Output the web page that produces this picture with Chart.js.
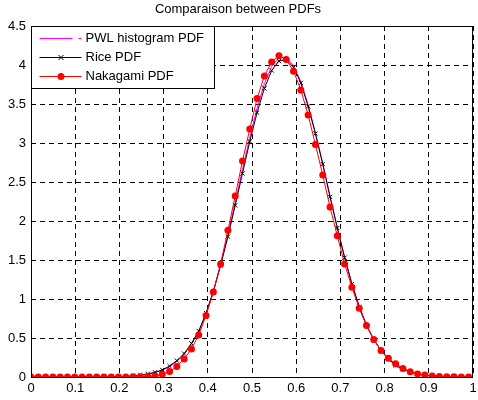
<!DOCTYPE html>
<html lang="en">
<head>
    <meta charset="UTF-8">
    <title>Comparaison between PDFs</title>
    <script src="https://cdn.jsdelivr.net/npm/chart.js"></script>
    <style>
        body {
            margin: 0;
            padding: 0;
            background: #ffffff;
        }
        #chart {
            display: block;
        }
    </style>
</head>
<body>
    <canvas id="chart" width="478" height="400"></canvas>

    <script>
        // x positions of the samples
        const xs = [0, 0.0165, 0.033, 0.0495, 0.066, 0.0825, 0.099, 0.1155, 0.132, 0.1485,
            0.165, 0.1815, 0.198, 0.2145, 0.231, 0.2475, 0.264, 0.2805, 0.297, 0.3135,
            0.33, 0.3465, 0.363, 0.3795, 0.396, 0.4125, 0.429, 0.4455, 0.462, 0.4785,
            0.495, 0.5115, 0.528, 0.5445, 0.561, 0.5775, 0.594, 0.6105, 0.627, 0.6435,
            0.66, 0.6765, 0.693, 0.7095, 0.726, 0.7425, 0.759, 0.7755, 0.792, 0.8085,
            0.825, 0.8415, 0.858, 0.8745, 0.891, 0.9075, 0.924, 0.9405, 0.957, 0.9735,
            0.99];

        const pwlPdf = [0, 0, 0, 0, 0, 0, 0, 0, 0, 0.0003,
            0.0008, 0.0015, 0.003, 0.006, 0.012, 0.021, 0.036, 0.056, 0.086, 0.13,
            0.2, 0.29, 0.42, 0.58, 0.8, 1.09, 1.44, 1.82, 2.24, 2.66,
            3.07, 3.45, 3.76, 3.98, 4.09, 4.1, 3.99, 3.79, 3.49, 3.13,
            2.74, 2.32, 1.92, 1.54, 1.2, 0.91, 0.67, 0.48, 0.34, 0.23,
            0.15, 0.1, 0.065, 0.04, 0.024, 0.014, 0.008, 0.004, 0.002, 0.001,
            0];

        const ricePdf = [0, 0, 0, 0, 0, 0, 0, 0, 0.0002, 0.0005,
            0.001, 0.002, 0.004, 0.008, 0.015, 0.025, 0.04, 0.06, 0.09, 0.14,
            0.21, 0.30, 0.43, 0.59, 0.82, 1.10, 1.43, 1.80, 2.20, 2.61,
            3.02, 3.39, 3.70, 3.93, 4.05, 4.07, 3.97, 3.77, 3.47, 3.12,
            2.73, 2.31, 1.91, 1.53, 1.19, 0.90, 0.66, 0.48, 0.34, 0.23,
            0.15, 0.10, 0.065, 0.04, 0.025, 0.015, 0.009, 0.005, 0.003, 0.002,
            0.001];

        const nakagamiPdf = [0, 0, 0, 0, 0, 0, 0, 0, 0, 0,
            0.0001, 0.0003, 0.0006, 0.0012, 0.0025, 0.0045, 0.007, 0.013, 0.035, 0.07,
            0.135, 0.23, 0.36, 0.54, 0.79, 1.09, 1.45, 1.88, 2.32, 2.77,
            3.18, 3.57, 3.86, 4.04, 4.12, 4.07, 3.92, 3.68, 3.36, 2.98,
            2.59, 2.18, 1.81, 1.45, 1.15, 0.88, 0.66, 0.48, 0.34, 0.24,
            0.17, 0.11, 0.068, 0.04, 0.026, 0.014, 0.008, 0.004, 0.002, 0.001,
            0.0005];

        const xTicks = [0, 0.1, 0.2, 0.3, 0.4, 0.5, 0.6, 0.7, 0.8, 0.9, 1];
        const xTickLabels = ['0', '0.1', '0.2', '0.3', '0.4', '0.5', '0.6', '0.7', '0.8', '0.9', '1'];
        const yTicks = [0, 0.5, 1, 1.5, 2, 2.5, 3, 3.5, 4, 4.5];
        const yTickLabels = ['0', '0.5', '1', '1.5', '2', '2.5', '3', '3.5', '4', '4.5'];

        const seriesNames = ['PWL histogram PDF', 'Rice PDF', 'Nakagami PDF'];

        const FONT = '"Liberation Sans", Arial, Helvetica, sans-serif';

        function toPoints(ys) {
            return xs.map((x, i) => ({ x: x, y: ys[i] }));
        }

        // box around the axes + matlab style legend
        const frameAndLegend = {
            id: 'frameAndLegend',
            afterDraw(chart) {
                const ctx = chart.ctx;
                const a = chart.chartArea;
                ctx.save();
                ctx.setLineDash([]);
                ctx.strokeStyle = '#000';
                ctx.lineWidth = 1;
                ctx.strokeRect(Math.round(a.left) + 0.5, Math.round(a.top) + 0.5,
                    Math.round(a.right - a.left) - 1, Math.round(a.bottom - a.top));

                // legend
                const lx = Math.round(a.left) + 0.5;
                const ly = Math.round(a.top) + 0.5;
                const lw = 183;
                const lh = 62;
                ctx.fillStyle = '#fff';
                ctx.fillRect(lx, ly, lw, lh);
                ctx.strokeRect(lx, ly, lw, lh);

                const rows = [ly + 12, ly + 31, ly + 50];
                ctx.font = '13px ' + FONT;
                ctx.textBaseline = 'middle';
                ctx.textAlign = 'left';

                // PWL
                ctx.strokeStyle = '#ff00ff';
                ctx.beginPath();
                ctx.moveTo(lx + 8, rows[0]);
                ctx.lineTo(lx + 41, rows[0]);
                ctx.moveTo(lx + 47, rows[0]);
                ctx.lineTo(lx + 50, rows[0]);
                ctx.stroke();

                // Rice
                ctx.strokeStyle = '#000';
                ctx.beginPath();
                ctx.moveTo(lx + 8, rows[1]);
                ctx.lineTo(lx + 50, rows[1]);
                ctx.moveTo(lx + 27, rows[1] - 2.5);
                ctx.lineTo(lx + 32, rows[1] + 2.5);
                ctx.moveTo(lx + 32, rows[1] - 2.5);
                ctx.lineTo(lx + 27, rows[1] + 2.5);
                ctx.stroke();

                // Nakagami
                ctx.strokeStyle = '#ff0000';
                ctx.fillStyle = '#ff0000';
                ctx.beginPath();
                ctx.moveTo(lx + 8, rows[2]);
                ctx.lineTo(lx + 50, rows[2]);
                ctx.stroke();
                ctx.beginPath();
                ctx.arc(lx + 29.5, rows[2], 3.5, 0, Math.PI * 2);
                ctx.fill();

                ctx.fillStyle = '#000';
                seriesNames.forEach((name, i) => {
                    ctx.fillText(name, lx + 54, rows[i]);
                });
                ctx.restore();
            }
        };

        const ctx = document.getElementById('chart').getContext('2d');
        new Chart(ctx, {
            type: 'line',
            data: {
                datasets: [
                    {
                        label: seriesNames[2],
                        data: toPoints(nakagamiPdf),
                        borderColor: '#ff0000',
                        backgroundColor: '#ff0000',
                        borderWidth: 1,
                        pointStyle: 'circle',
                        pointRadius: 3.5,
                        pointBorderWidth: 0,
                        order: 0
                    },
                    {
                        label: seriesNames[1],
                        data: toPoints(ricePdf),
                        borderColor: '#000000',
                        backgroundColor: '#000000',
                        borderWidth: 1,
                        pointStyle: 'crossRot',
                        pointRadius: 3,
                        pointBorderWidth: 1,
                        order: 1
                    },
                    {
                        label: seriesNames[0],
                        data: toPoints(pwlPdf),
                        borderColor: '#ff00ff',
                        backgroundColor: '#ff00ff',
                        borderWidth: 1,
                        pointRadius: 0,
                        order: 2
                    }
                ]
            },
            options: {
                responsive: false,
                animation: false,
                events: [],
                layout: {
                    padding: { left: 0, right: 2, top: 0, bottom: 0 }
                },
                elements: {
                    line: { tension: 0 }
                },
                plugins: {
                    legend: { display: false },
                    tooltip: { enabled: false },
                    title: {
                        display: true,
                        text: 'Comparaison between PDFs',
                        color: '#000',
                        font: { family: FONT, size: 13, weight: 'normal' },
                        padding: { top: 2, bottom: 8.4 }
                    }
                },
                scales: {
                    x: {
                        type: 'linear',
                        min: 0,
                        max: 1,
                        afterBuildTicks: (scale) => {
                            scale.ticks = xTicks.map(v => ({ value: v }));
                        },
                        afterFit: (scale) => {
                            scale.height = 23;
                            scale.paddingLeft = 0;
                            scale.paddingRight = 0;
                        },
                        ticks: {
                            autoSkip: false,
                            maxRotation: 0,
                            padding: 4,
                            color: '#000',
                            font: { family: FONT, size: 13 },
                            callback: (value, index) => xTickLabels[index]
                        },
                        grid: {
                            color: '#000',
                            lineWidth: 1,
                            drawTicks: false
                        },
                        border: { display: false, dash: [5, 4] }
                    },
                    y: {
                        type: 'linear',
                        min: 0,
                        max: 4.5,
                        afterBuildTicks: (scale) => {
                            scale.ticks = yTicks.map(v => ({ value: v }));
                        },
                        afterFit: (scale) => {
                            scale.width = 31;
                            scale.paddingTop = 0;
                            scale.paddingBottom = 0;
                        },
                        ticks: {
                            autoSkip: false,
                            padding: 5,
                            color: '#000',
                            font: { family: FONT, size: 13 },
                            callback: (value, index) => yTickLabels[index]
                        },
                        grid: {
                            color: '#000',
                            lineWidth: 1,
                            drawTicks: false
                        },
                        border: { display: false, dash: [5, 4] }
                    }
                }
            },
            plugins: [frameAndLegend]
        });
    </script>
</body>
</html>
